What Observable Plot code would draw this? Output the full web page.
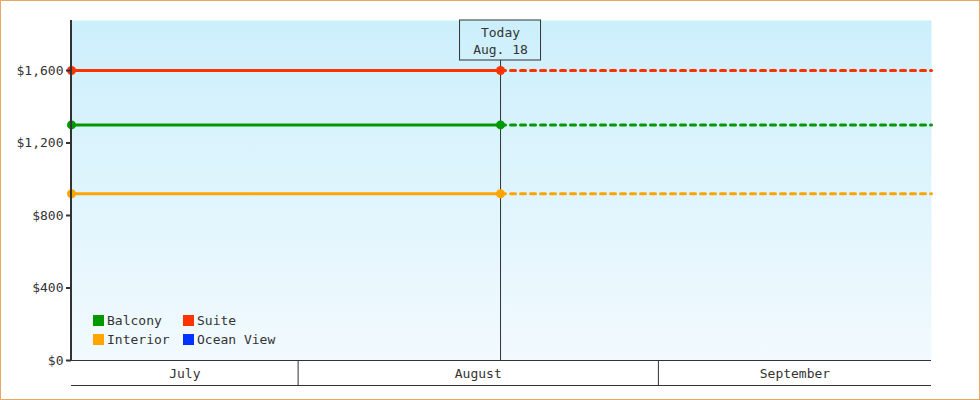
<!DOCTYPE html>
<html>
<head>
<meta charset="utf-8">
<script src="https://cdn.jsdelivr.net/npm/d3@7"></script>
<script src="https://cdn.jsdelivr.net/npm/@observablehq/plot@0.6"></script>
<style>
  html, body { margin: 0; padding: 0; background: white; }
  #wrap { position: relative; width: 980px; height: 400px; overflow: hidden; font-family: "DejaVu Sans Mono", monospace; }
  #border { position: absolute; left: 0; top: 0; width: 980px; height: 400px; box-sizing: border-box; border: 1px solid #e8a862; pointer-events: none; }
  #legend { position: absolute; left: 93px; top: 311px; display: grid; grid-template-columns: 90px auto; grid-auto-rows: 19px; font-size: 13px; color: #333; }
  #legend .item { display: flex; align-items: center; }
  #legend .sw { width: 11px; height: 11px; margin-right: 3px; }
</style>
</head>
<body>
<div id="wrap"><div id="border"></div></div>
<script>
// ---- data ----
const categories = ["Balcony", "Suite", "Interior", "Ocean View"];
const colors = ["#009900", "#ff3300", "#ffa500", "#0033ff"];
const prices = [1300, 1600, 920, null];
const startDate = "2023-07-12T12:00";
const todayDate = "2023-08-18T10:00";
const endDate = "2023-09-24T12:00";
const todayLabel = ["Today", "Aug. 18"];
const monthNames = ["July", "August", "September"];
const monthStarts = ["2023-08-01T00:00", "2023-09-01T00:00"];
const yTicks = [0, 400, 800, 1200, 1600];
const yMax = 1876;

// ---- derived tables ----
const t0 = new Date(startDate), tToday = new Date(todayDate), t1 = new Date(endDate);
const bounds = monthStarts.map(d => new Date(d));
const edges = [t0, ...bounds, t1];
const monthSegs = monthNames.map((name, i) => ({
  name, mid: new Date((+edges[i] + +edges[i + 1]) / 2)
}));
const series = categories.map((c, i) => ({c, p: prices[i]})).filter(d => d.p != null);
const pastPts = series.flatMap(d => [{c: d.c, p: d.p, t: t0}, {c: d.c, p: d.p, t: tToday}]);
const futurePts = series.flatMap(d => [{c: d.c, p: d.p, t: tToday}, {c: d.c, p: d.p, t: t1}]);

const defs = (index, scales, values, dim) => {
  const g = d3.create("svg:defs");
  const lg = g.append("linearGradient").attr("id", "bg")
    .attr("gradientUnits", "userSpaceOnUse")
    .attr("x1", 0).attr("x2", 0)
    .attr("y1", dim.marginTop).attr("y2", dim.height - dim.marginBottom);
  lg.append("stop").attr("offset", "0%").attr("stop-color", "#cceffc");
  lg.append("stop").attr("offset", "100%").attr("stop-color", "#f2fafe");
  return g.node();
};

const chart = Plot.plot({
  width: 980,
  height: 400,
  marginLeft: 71,
  marginRight: 49,
  marginTop: 20,
  marginBottom: 40,
  style: {fontFamily: "DejaVu Sans Mono, monospace", fontSize: "13px", color: "#333", background: "transparent"},
  x: {type: "time", domain: [t0, t1], label: null},
  y: {domain: [0, yMax], label: null},
  color: {domain: categories, range: colors},
  marks: [
    defs,
    Plot.frame({fill: "url(#bg)", stroke: "none"}),
    Plot.ruleX([tToday], {stroke: "#333", strokeWidth: 1}),
    Plot.line(pastPts, {x: "t", y: "p", z: "c", stroke: "c", strokeWidth: 3}),
    Plot.line(futurePts, {x: "t", y: "p", z: "c", stroke: "c", strokeWidth: 3, strokeDasharray: "5,5"}),
    Plot.dot(pastPts, {x: "t", y: "p", fill: "c", r: 4.5, stroke: "none"}),
    Plot.rect([tToday], {x1: d => d, x2: d => d, y1: yMax, y2: yMax, insetLeft: -40.5, insetRight: -40.5, insetBottom: -40, fill: "url(#bg)", stroke: "#333", strokeWidth: 1}),
    Plot.text([tToday], {x: d => d, frameAnchor: "top", lineAnchor: "middle", dy: 20, text: () => todayLabel.join("\n"), lineHeight: 1.3, fill: "#333", fontSize: 13}),
    Plot.ruleX([t0], {stroke: "#333", strokeWidth: 2, dx: -0.5}),
    Plot.axisY({ticks: yTicks, tickFormat: d => "$" + d3.format(",")(d), tickSize: 5, tickPadding: 3, strokeWidth: 2, color: "#333", label: null, fontSize: 13}),
    Plot.ruleY([0], {stroke: "#333", strokeWidth: 1}),
    Plot.ruleY([0], {stroke: "#333", strokeWidth: 1, dy: 25}),
    Plot.axisX({ticks: bounds, tickSize: 25, tickFormat: () => "", color: "#333", label: null}),
    Plot.text(monthSegs, {x: "mid", text: "name", frameAnchor: "bottom", lineAnchor: "middle", dy: 13, fill: "#333", fontSize: 13})
  ]
});

const wrap = document.getElementById("wrap");
wrap.insertBefore(chart, wrap.firstChild);
chart.style.position = "absolute";
chart.style.left = "0";
chart.style.top = "0";

const legend = document.createElement("div");
legend.id = "legend";
categories.forEach((name, i) => {
  const item = document.createElement("div");
  item.className = "item";
  const sw = document.createElement("span");
  sw.className = "sw";
  sw.style.background = colors[i];
  const tx = document.createElement("span");
  tx.textContent = name;
  item.appendChild(sw);
  item.appendChild(tx);
  legend.appendChild(item);
});
wrap.appendChild(legend);
</script>
</body>
</html>
